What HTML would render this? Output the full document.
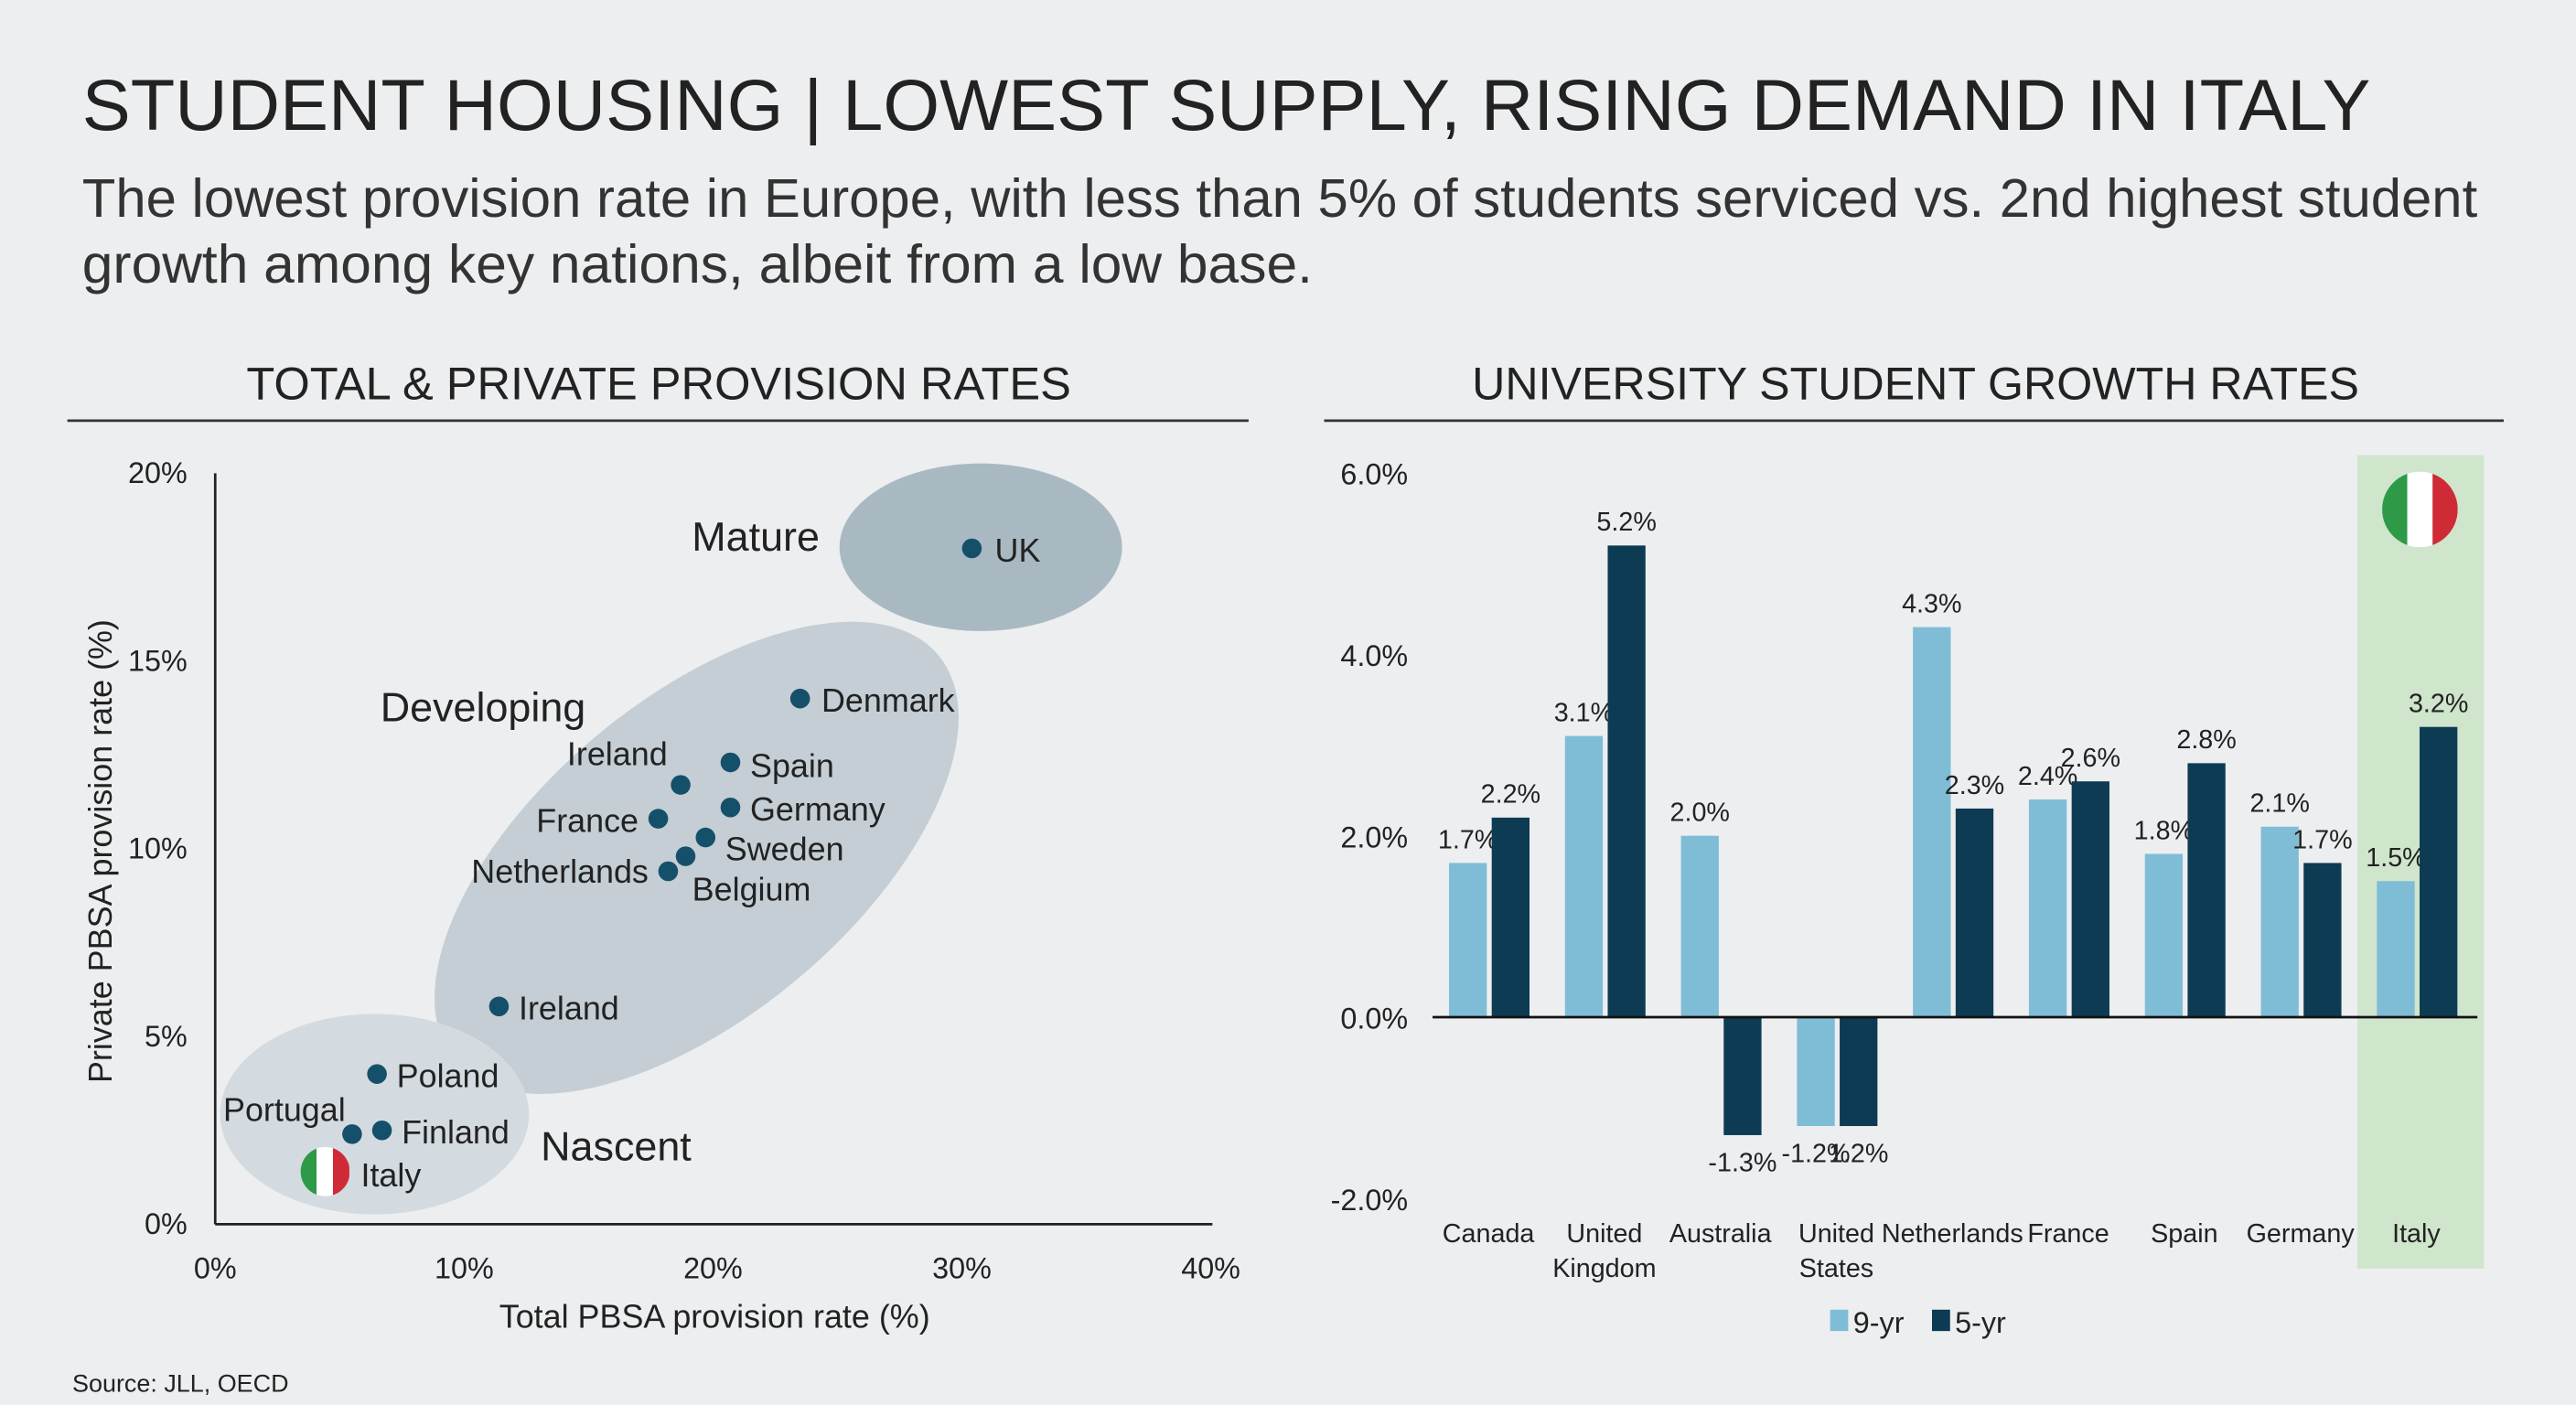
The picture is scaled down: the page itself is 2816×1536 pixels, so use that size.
<!DOCTYPE html>
<html><head><meta charset="utf-8"><style>
html,body{margin:0;padding:0;background:#eceef0}
svg{display:block;font-family:"Liberation Sans",sans-serif}
</style></head><body>
<svg width="2816" height="1536" viewBox="0 0 1568 855" preserveAspectRatio="none" xmlns="http://www.w3.org/2000/svg">
<defs>
<clipPath id="fc1"><circle cx="198" cy="713" r="15"/></clipPath>
<clipPath id="fc2"><circle cx="1473" cy="310" r="23"/></clipPath>
</defs>
<rect width="1568" height="855" fill="#eceef0"/>
<text x="50" y="79" font-size="44" fill="#222" textLength="1393" lengthAdjust="spacingAndGlyphs">STUDENT HOUSING | LOWEST SUPPLY, RISING DEMAND IN ITALY</text>
<text x="50" y="132" font-size="33" fill="#333" textLength="1458" lengthAdjust="spacingAndGlyphs">The lowest provision rate in Europe, with less than 5% of students serviced vs. 2nd highest student</text>
<text x="50" y="172" font-size="33" fill="#333" textLength="749" lengthAdjust="spacingAndGlyphs">growth among key nations, albeit from a low base.</text>
<text x="401" y="243" font-size="28" fill="#222" text-anchor="middle" textLength="502" lengthAdjust="spacingAndGlyphs">TOTAL &amp; PRIVATE PROVISION RATES</text>
<line x1="41" y1="256" x2="760" y2="256" stroke="#333" stroke-width="1.5"/>
<text x="1166" y="243" font-size="28" fill="#222" text-anchor="middle" textLength="540" lengthAdjust="spacingAndGlyphs">UNIVERSITY STUDENT GROWTH RATES</text>
<line x1="806" y1="256" x2="1524" y2="256" stroke="#333" stroke-width="1.5"/>
<g id="scatter"></g>
<g id="bars"></g>
<text x="44" y="847" font-size="15" fill="#222">Source: JLL, OECD</text>
</svg>
<script>
const NS='http://www.w3.org/2000/svg';
function mk(p,t,a,txt){const e=document.createElementNS(NS,t);for(const k in a)e.setAttribute(k,a[k]);if(txt!==undefined)e.textContent=txt;p.appendChild(e);return e;}

// Scatter data
const countries=['UK','Denmark','Spain','Ireland','Germany','France','Sweden','Belgium','Netherlands','Ireland','Poland','Finland','Portugal','Italy'];
const totalRate=[30.4,23.5,20.7,18.7,20.7,17.8,19.7,18.9,18.2,11.4,6.5,6.7,5.5,4.4];
const privateRate=[18.0,14.0,12.3,11.7,11.1,10.8,10.3,9.8,9.4,5.8,4.0,2.5,2.4,1.4];
const xTicks=[0,10,20,30,40];
const yTicks=[0,5,10,15,20];

// Bar data
const barCats=[['Canada'],['United','Kingdom'],['Australia'],['United','States'],['Netherlands'],['France'],['Spain'],['Germany'],['Italy']];
const nineYr=[1.7,3.1,2.0,-1.2,4.3,2.4,1.8,2.1,1.5];
const fiveYr=[2.2,5.2,-1.3,-1.2,2.3,2.6,2.8,1.7,3.2];
const nineLbl=['1.7%','3.1%','2.0%','-1.2%','4.3%','2.4%','1.8%','2.1%','1.5%'];
const fiveLbl=['2.2%','5.2%','-1.3%','1.2%','2.3%','2.6%','2.8%','1.7%','3.2%'];
const barTicks=[-2,0,2,4,6];

// scatter
const S=document.getElementById('scatter');
const sx=v=>131+v*(737-131)/40, sy=v=>745-v*(745-288)/20;
let e;
e=mk(S,'ellipse',{cx:597,cy:333,rx:86,ry:51,fill:'#a9b9c2'});
e=mk(S,'ellipse',{cx:424,cy:522,rx:192,ry:96,transform:'rotate(-40 424 522)',fill:'#c4ced4'});
e=mk(S,'ellipse',{cx:228,cy:678,rx:94,ry:61,fill:'#d4dbe0'});
mk(S,'line',{x1:131,y1:288,x2:131,y2:745,stroke:'#222','stroke-width':1.5});
mk(S,'line',{x1:131,y1:745,x2:738,y2:745,stroke:'#222','stroke-width':1.5});
xTicks.forEach(t=>{e=mk(S,'text',{x:sx(t),y:778,'font-size':18,'text-anchor':'middle',fill:'#222'},t+'%');});
yTicks.forEach(t=>{e=mk(S,'text',{x:114,y:sy(t)+6,'font-size':18,'text-anchor':'end',fill:'#222'},t+'%');});
e=mk(S,'text',{x:435,y:808,'font-size':20,'text-anchor':'middle',fill:'#222'},'Total PBSA provision rate (%)');
e=mk(S,'text',{x:68,y:518,'font-size':20,'text-anchor':'middle',fill:'#222',transform:'rotate(-90 68 518)'},'Private PBSA provision rate (%)');
[['Mature',460,335],['Developing',294,439],['Nascent',375,706]].forEach(g=>{e=mk(S,'text',{x:g[1],y:g[2],'font-size':25,'text-anchor':'middle',fill:'#222'},g[0]);});
const lblPos=[[1,14,8],[1,13,8],[1,12,9],[-1,-8,-12],[1,12,8],[-1,-12,8],[1,12,14],[1,4,27],[-1,-12,7],[1,12,8],[1,12,8],[1,12,8],[-1,-4,-8],[1,22,9]];
countries.forEach((c,i)=>{
  const x=sx(totalRate[i]),y=sy(privateRate[i]);
  if(c==='Italy'){
    const g=mk(S,'g',{});
    mk(g,'rect',{x:x-15,y:y-15,width:10,height:30,fill:'#2e9a48','clip-path':'url(#fc1)'});
    mk(g,'rect',{x:x-5,y:y-15,width:10,height:30,fill:'#fff','clip-path':'url(#fc1)'});
    mk(g,'rect',{x:x+5,y:y-15,width:10,height:30,fill:'#cf2b37','clip-path':'url(#fc1)'});
  } else {
    e=mk(S,'circle',{cx:x,cy:y,r:6,fill:'#15506a'});
  }
  const p=lblPos[i];
  e=mk(S,'text',{x:x+p[1],y:y+p[2],'font-size':20,'text-anchor':p[0]>0?'start':'end',fill:'#222'},c);
});

// bars
const B=document.getElementById('bars');
const by=v=>619-v*55.2, bc=i=>906+i*70.6;
e=mk(B,'rect',{x:1435,y:277,width:77,height:495,fill:'#cfe5cc'});
const fg=mk(B,'g',{});
mk(fg,'rect',{x:1450,y:287,width:15.3,height:46,fill:'#2e9a48','clip-path':'url(#fc2)'});
mk(fg,'rect',{x:1465.3,y:287,width:15.4,height:46,fill:'#fff','clip-path':'url(#fc2)'});
mk(fg,'rect',{x:1480.7,y:287,width:15.3,height:46,fill:'#cf2b37','clip-path':'url(#fc2)'});
barTicks.forEach(t=>{e=mk(B,'text',{x:857,y:by(t)+7,'font-size':18,'text-anchor':'end',fill:'#222'},t.toFixed(1)+'%');});
barCats.forEach((c,i)=>{
  const x=bc(i);
  [[nineYr[i],x-24,'#7fbdd6',nineLbl[i],'9yr'],[fiveYr[i],x+2,'#0d3b53',fiveLbl[i],'5yr']].forEach(b=>{
    const v=b[0],y0=by(Math.max(v,0)),h=Math.abs(by(v)-by(0));
    e=mk(B,'rect',{x:b[1],y:y0,width:23,height:h,fill:b[2]});
    const ly=v>=0?by(v)-9:by(v)+22;
    e=mk(B,'text',{x:b[1]+11.5,y:ly,'font-size':16,'text-anchor':'middle',fill:'#222'},b[3]);
  });
  c.forEach((w,k)=>{e=mk(B,'text',{x:x,y:756+k*21,'font-size':16,'text-anchor':'middle',fill:'#222'},w);});
});
mk(B,'line',{x1:872,y1:619,x2:1508,y2:619,stroke:'#111','stroke-width':1.5});
e=mk(B,'rect',{x:1114,y:797,width:11,height:13,fill:'#7fbdd6'});
e=mk(B,'text',{x:1128,y:811,'font-size':18,fill:'#222'},'9-yr');
e=mk(B,'rect',{x:1176,y:797,width:11,height:13,fill:'#0d3b53'});
e=mk(B,'text',{x:1190,y:811,'font-size':18,fill:'#222'},'5-yr');
</script>
</body></html>
